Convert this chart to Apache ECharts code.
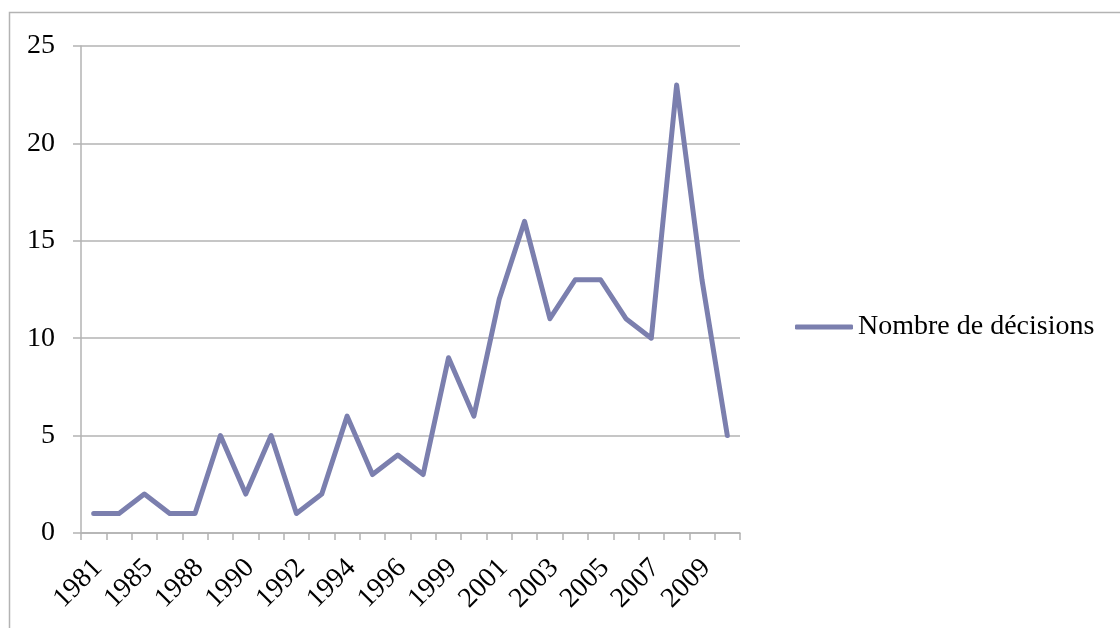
<!DOCTYPE html>
<html>
<head>
<meta charset="utf-8">
<script src="https://cdn.jsdelivr.net/npm/echarts@6/dist/echarts.min.js"></script>
<style>
  html, body { margin: 0; padding: 0; background: #fff; }
  #chart { width: 1120px; height: 628px; }
</style>
</head>
<body>
<div id="chart"></div>
<script>
// Years on the category axis (every other one is labelled)
const years = ['1981', '1983', '1985', '1987', '1988', '1989', '1990', '1991', '1992', '1993',
  '1994', '1995', '1996', '1998', '1999', '2000', '2001', '2002', '2003', '2004',
  '2005', '2006', '2007', '2008', '2009', '2010'];
// Number of decisions per year
const decisions = [1, 1, 2, 1, 1, 5, 2, 5, 1, 2, 6, 3, 4, 3, 9, 6, 12, 16, 11, 13, 13, 11, 10, 23, 13, 5];
const seriesName = 'Nombre de décisions';
const yTicks = { min: 0, max: 25, interval: 5 };

const font = 'Liberation Serif';
const fontSize = 28;
const lineColor = '#7b7fae';
const gridColor = '#b3b3b3';

const chart = echarts.init(document.getElementById('chart'), null, { renderer: 'canvas' });
chart.setOption({
  backgroundColor: '#ffffff',
  animation: false,
  graphic: [{
    type: 'rect',
    shape: { x: 9.5, y: 12.5, width: 1300, height: 800 },
    style: { fill: 'none', stroke: gridColor, lineWidth: 1.5 },
    silent: true
  }],
  grid: { left: 81, top: 46, right: 380, bottom: 95, containLabel: false },
  legend: {
    data: [seriesName],
    left: 790,
    top: 308,
    itemWidth: 58,
    itemHeight: 5,
    itemGap: 4,
    icon: 'roundRect',
    textStyle: { fontFamily: font, fontSize: fontSize, color: '#000' }
  },
  xAxis: {
    type: 'category',
    data: years,
    boundaryGap: true,
    axisLine: { lineStyle: { color: gridColor, width: 1.5 } },
    axisTick: { show: true, interval: 0, length: 7, lineStyle: { color: gridColor, width: 1.5 } },
    axisLabel: {
      interval: 1,
      rotate: 45,
      margin: 35,
      padding: [0, -6, 0, 0],
      fontFamily: font,
      fontSize: fontSize,
      color: '#000'
    },
    splitLine: { show: false }
  },
  yAxis: {
    type: 'value',
    min: yTicks.min,
    max: yTicks.max,
    interval: yTicks.interval,
    axisLine: { show: true, lineStyle: { color: gridColor, width: 1.5 } },
    axisTick: { show: true, length: 8, lineStyle: { color: gridColor, width: 1.5 } },
    axisLabel: { margin: 26, fontFamily: font, fontSize: fontSize, color: '#000' },
    splitLine: { show: true, lineStyle: { color: gridColor, width: 1.5 } }
  },
  series: [{
    name: seriesName,
    type: 'line',
    data: decisions,
    symbol: 'none',
    lineStyle: { color: lineColor, width: 5, cap: 'round', join: 'round' },
    itemStyle: { color: lineColor }
  }]
});
</script>
</body>
</html>
